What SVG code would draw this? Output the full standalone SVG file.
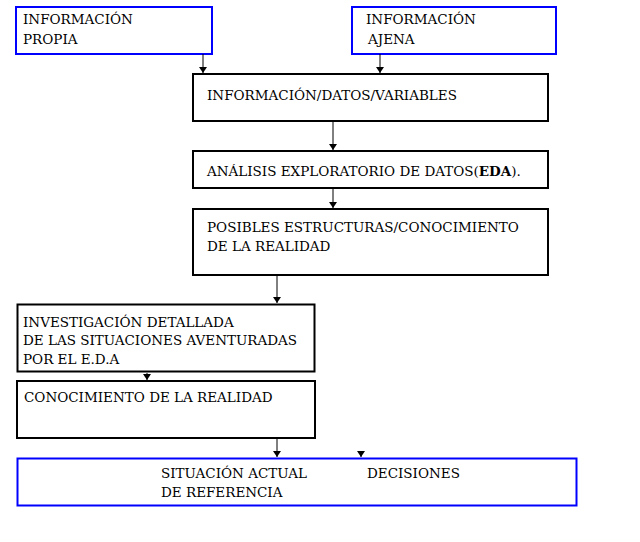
<svg xmlns="http://www.w3.org/2000/svg" width="640" height="542" viewBox="0 0 640 542">
<style>
.t text{font-family:'DejaVu Serif','Liberation Serif',serif;font-size:13.5px;fill:#000}
.b{fill:#fff;stroke:#000;stroke-width:2}
.bl{fill:#fff;stroke:#0000ff;stroke-width:2}
.c line{stroke:#000;stroke-width:1}
</style>
<defs><marker id="a" markerWidth="8" markerHeight="6" refX="4" refY="6" orient="0" markerUnits="userSpaceOnUse"><path d="M0,0 L8,0 L4,6z" fill="#000"/></marker></defs>
<rect width="640" height="542" fill="#fff"/>
<g class="t">
<g id="n1"><rect class="bl" x="16" y="7" width="196" height="47"/><text x="23" y="24">INFORMACIÓN</text><text x="23" y="44">PROPIA</text></g>
<g id="n2"><rect class="bl" x="352" y="7" width="204" height="47"/><text x="366" y="24">INFORMACIÓN</text><text x="368" y="44">AJENA</text></g>
<g id="n3"><rect class="b" x="193" y="74" width="355" height="47"/><text x="207" y="100">INFORMACIÓN/DATOS/VARIABLES</text></g>
<g id="n4"><rect class="b" x="193" y="151" width="355" height="37"/><text x="207" y="176">ANÁLISIS EXPLORATORIO DE DATOS(<tspan font-weight="bold">EDA</tspan>).</text></g>
<g id="n5"><rect class="b" x="193" y="209" width="355" height="66"/><text x="207" y="232">POSIBLES ESTRUCTURAS/CONOCIMIENTO</text><text x="207" y="251">DE LA REALIDAD</text></g>
<g id="n6"><rect class="b" x="17.5" y="304.5" width="297" height="67" stroke-width="3"/><text x="23" y="327">INVESTIGACIÓN DETALLADA</text><text x="23" y="345">DE LAS SITUACIONES AVENTURADAS</text><text x="23" y="364">POR EL E.D.A</text></g>
<g id="n7"><rect class="b" x="17" y="381" width="298" height="57"/><text x="24" y="402">CONOCIMIENTO DE LA REALIDAD</text></g>
<g id="n8"><rect class="bl" x="17.5" y="458.5" width="559" height="47" stroke-width="3"/><text x="161" y="478">SITUACIÓN ACTUAL</text><text x="367" y="478">DECISIONES</text><text x="161" y="497">DE REFERENCIA</text></g>
</g>
<g class="c">
<line x1="203" y1="54" x2="203" y2="73" marker-end="url(#a)"/>
<line x1="380" y1="54" x2="380" y2="73" marker-end="url(#a)"/>
<line x1="333" y1="121" x2="333" y2="150" marker-end="url(#a)"/>
<line x1="333" y1="188" x2="333" y2="208" marker-end="url(#a)"/>
<line x1="277" y1="275" x2="277" y2="303" marker-end="url(#a)"/>
<line x1="147" y1="373" x2="147" y2="380" marker-end="url(#a)"/>
<line x1="277" y1="438" x2="277" y2="457" marker-end="url(#a)"/>
<line x1="361" y1="452" x2="361" y2="457" marker-end="url(#a)"/>
</g>
</svg>
